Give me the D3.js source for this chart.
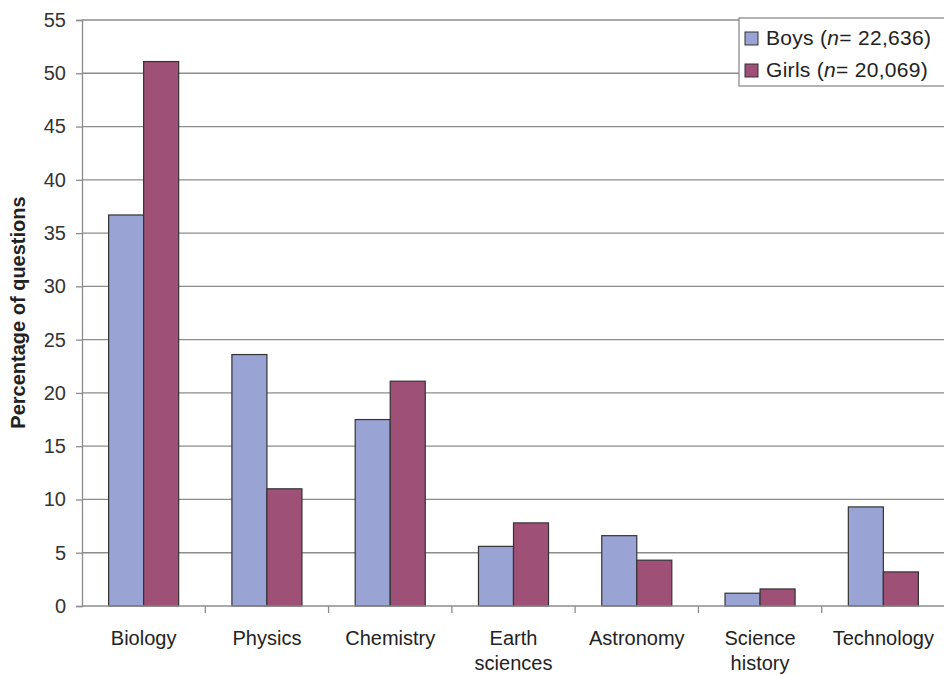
<!DOCTYPE html>
<html>
<head>
<meta charset="utf-8">
<script src="https://cdn.jsdelivr.net/npm/d3@7"></script>
<style>
  body { margin: 0; background: #fff; }
  svg { font-family: "Liberation Sans", Arial, sans-serif; }
</style>
</head>
<body>
<svg id="chart" width="944" height="675"></svg>
<script>
// data
const categories = [['Biology'], ['Physics'], ['Chemistry'], ['Earth', 'sciences'], ['Astronomy'], ['Science', 'history'], ['Technology']];
const boys = [36.7, 23.6, 17.5, 5.6, 6.6, 1.2, 9.3];
const girls = [51.1, 11.0, 21.1, 7.8, 4.3, 1.6, 3.2];
const seriesNames = ['Boys', 'Girls'];
const seriesN = ['22,636', '20,069'];
const yTicks = [0, 5, 10, 15, 20, 25, 30, 35, 40, 45, 50, 55];

const colors = { Boys: '#99a3d4', Girls: '#9f5076' };

const margin = { top: 20, right: -1, bottom: 69, left: 82 };
const width = 944, height = 675;

const svg = d3.select('#chart');
const catKeys = categories.map(c => c.join(' '));

const x0 = d3.scaleBand()
  .domain(catKeys)
  .range([margin.left, width - margin.right])
  .paddingInner(0)
  .paddingOuter(0);

const x1 = d3.scaleBand()
  .domain(seriesNames)
  .range([0, x0.bandwidth()])
  .paddingInner(0)
  .paddingOuter(0.76);

const y = d3.scaleLinear()
  .domain([0, 55])
  .range([height - margin.bottom, margin.top]);

// gridlines
svg.append('g')
  .selectAll('line')
  .data(yTicks.filter(d => d > 0))
  .enter()
  .append('line')
  .attr('x1', margin.left)
  .attr('x2', width)
  .attr('y1', d => y(d))
  .attr('y2', d => y(d))
  .attr('stroke', '#8c8c8c')
  .attr('stroke-width', 1.3);

// bars
const rows = catKeys.map((k, i) => ({ key: k, Boys: boys[i], Girls: girls[i] }));
const groups = svg.append('g')
  .selectAll('g')
  .data(rows)
  .enter()
  .append('g')
  .attr('transform', d => `translate(${x0(d.key)},0)`);

groups.selectAll('rect')
  .data(d => seriesNames.map(s => ({ s, v: d[s] })))
  .enter()
  .append('rect')
  .attr('x', d => x1(d.s))
  .attr('y', d => y(d.v))
  .attr('width', x1.bandwidth())
  .attr('height', d => y(0) - y(d.v))
  .attr('fill', d => colors[d.s])
  .attr('stroke', '#333')
  .attr('stroke-width', 1.2);

// y axis
const yAxis = svg.append('g')
  .attr('transform', `translate(${margin.left},0)`)
  .call(d3.axisLeft(y).tickValues(yTicks).tickSize(6).tickPadding(10));
yAxis.select('.domain').attr('stroke', '#8c8c8c').attr('stroke-width', 1.3);
yAxis.selectAll('.tick line').attr('stroke', '#8c8c8c').attr('stroke-width', 1.3);
yAxis.selectAll('.tick text').attr('font-size', 20).attr('fill', '#333').attr('font-family', '"Liberation Sans", Arial, sans-serif');

// x axis
svg.append('line')
  .attr('x1', margin.left).attr('x2', width)
  .attr('y1', y(0)).attr('y2', y(0))
  .attr('stroke', '#8c8c8c').attr('stroke-width', 1.3);

svg.append('g')
  .selectAll('line')
  .data(catKeys.slice(1))
  .enter()
  .append('line')
  .attr('x1', d => x0(d))
  .attr('x2', d => x0(d))
  .attr('y1', y(0))
  .attr('y2', y(0) + 7)
  .attr('stroke', '#8c8c8c')
  .attr('stroke-width', 1.3);

const xLabels = svg.append('g')
  .selectAll('text')
  .data(categories)
  .enter()
  .append('text')
  .attr('x', (d, i) => x0(catKeys[i]) + x0.bandwidth() / 2)
  .attr('y', 645)
  .attr('text-anchor', 'middle')
  .attr('font-size', 20)
  .attr('fill', '#222');
xLabels.selectAll('tspan')
  .data(d => d)
  .enter()
  .append('tspan')
  .attr('x', function () { return d3.select(this.parentNode).attr('x'); })
  .attr('dy', (d, i) => i === 0 ? 0 : 25)
  .text(d => d);

// y title
svg.append('text')
  .attr('transform', `translate(25,${(188 + 437) / 2}) rotate(-90)`)
  .attr('text-anchor', 'middle')
  .attr('font-size', 20)
  .attr('font-weight', 'bold')
  .attr('fill', '#222')
  .text('Percentage of questions');

// legend
const legend = svg.append('g').attr('transform', 'translate(739,18)');
legend.append('rect')
  .attr('x', 0).attr('y', 0)
  .attr('width', 210).attr('height', 68)
  .attr('fill', '#fff')
  .attr('stroke', '#8c8c8c')
  .attr('stroke-width', 1.3);

seriesNames.forEach((s, i) => {
  const g = legend.append('g').attr('transform', `translate(0,${21 + i * 32})`);
  g.append('rect')
    .attr('x', 6).attr('y', -7)
    .attr('width', 13).attr('height', 13)
    .attr('fill', colors[s])
    .attr('stroke', '#333')
    .attr('stroke-width', 1);
  const t = g.append('text')
    .attr('x', 27).attr('y', 6)
    .attr('font-size', 21)
    .attr('letter-spacing', 0.3)
    .attr('fill', '#222');
  t.append('tspan').text(`${s} (`);
  t.append('tspan').attr('font-style', 'italic').text('n');
  t.append('tspan').text(`= ${seriesN[i]})`);
});
</script>
</body>
</html>
